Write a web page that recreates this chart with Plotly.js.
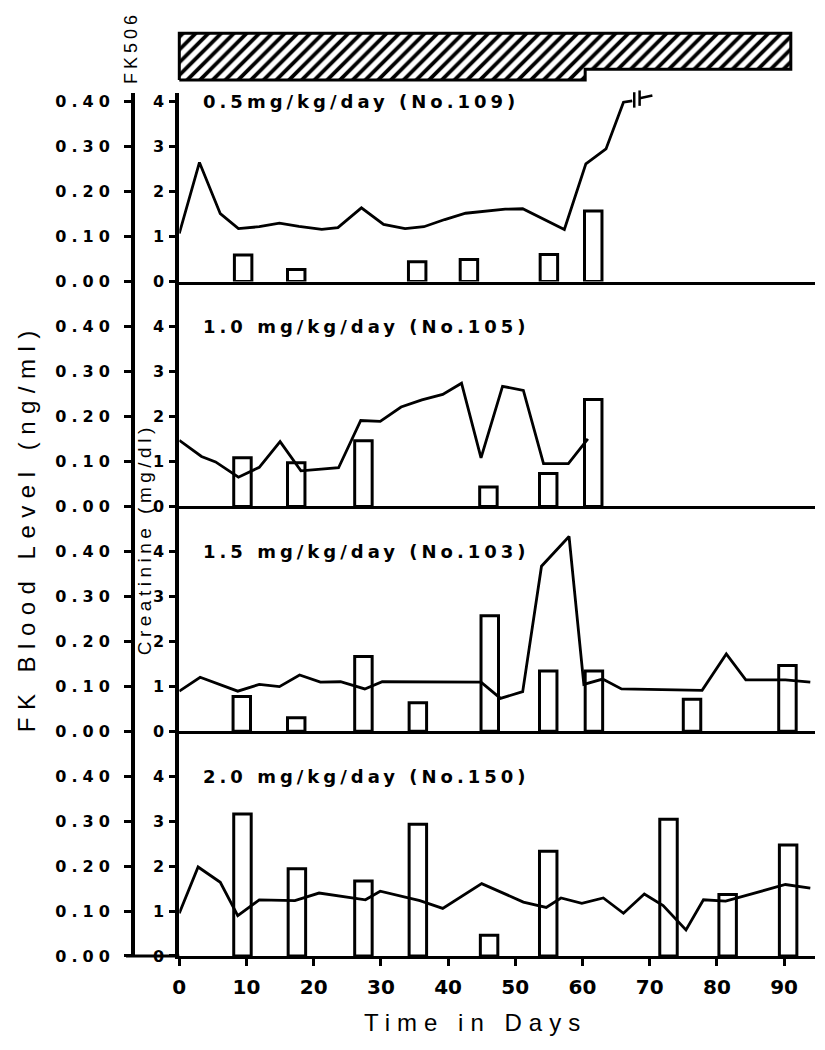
<!DOCTYPE html>
<html>
<head>
<meta charset="utf-8">
<script src="https://cdn.plot.ly/plotly-3.0.1.min.js"></script>
<style>
body{margin:0;background:#fff;}
.ytick text,.y2tick text,.y3tick text,.y4tick text{letter-spacing:5px;}
g.annotation[data-index="0"] text,g.annotation[data-index="1"] text,g.annotation[data-index="2"] text,g.annotation[data-index="3"] text{letter-spacing:4px;}
g.annotation[data-index="4"] text{letter-spacing:7.5px;}
g.annotation[data-index="5"] text{letter-spacing:4.5px;}
g.annotation[data-index="6"] text{letter-spacing:7px;}
g.annotation[data-index="7"] text{letter-spacing:4px;}
</style>
</head>
<body>
<div id="chart" style="width:825px;height:1050px"></div>
<script>
// ---------------- DATA ----------------
const panelLabels = ['0.5mg/kg/day (No.109)', '1.0 mg/kg/day (No.105)', '1.5 mg/kg/day (No.103)', '2.0 mg/kg/day (No.150)'];

// Panel 1: 0.5 mg/kg/day (No.109)
const creatDays1 = [0, 3.0, 6.1, 8.8, 11.9, 14.9, 17.8, 21.2, 23.6, 27.1, 30.4, 33.6, 36.4, 39.5, 42.6, 45.7, 48.5, 51.1, 54.3, 57.3, 60.5, 63.5, 66.1, 67.4];
const creat1     = [1.07, 2.65, 1.51, 1.18, 1.22, 1.30, 1.23, 1.16, 1.20, 1.64, 1.27, 1.18, 1.22, 1.38, 1.52, 1.57, 1.61, 1.62, 1.38, 1.16, 2.62, 2.95, 3.99, 4.02];
const fkDays1 = [9.5, 17.4, 35.4, 43.1, 55.0, 61.6];
const fk1     = [0.059, 0.027, 0.044, 0.049, 0.060, 0.157];
const breakDays1 = [67.7, 68.5, 70.4];
const breakCreat1 = [4.04, 4.08, 4.14];

// Panel 2: 1.0 mg/kg/day (No.105)
const creatDays2 = [0, 3.3, 5.4, 8.8, 11.9, 15.0, 18.1, 20.9, 23.7, 27.0, 29.9, 33.0, 36.1, 39.2, 42.0, 44.9, 48.1, 51.2, 54.2, 57.9, 60.8];
const creat2     = [1.47, 1.11, 0.99, 0.65, 0.87, 1.44, 0.79, 0.82, 0.86, 1.91, 1.89, 2.21, 2.37, 2.49, 2.74, 1.08, 2.67, 2.58, 0.95, 0.95, 1.50];
const fkDays2 = [9.4, 17.4, 27.4, 46.0, 54.9, 61.6];
const fk2     = [0.108, 0.097, 0.146, 0.043, 0.073, 0.238];

// Panel 3: 1.5 mg/kg/day (No.103)
const creatDays3 = [0, 3.1, 8.7, 11.9, 14.9, 17.9, 21.0, 24.0, 27.6, 30.2, 44.9, 47.8, 51.1, 53.9, 58.0, 60.2, 63.0, 65.8, 77.8, 81.4, 84.3, 90.2, 93.9];
const creat3     = [0.89, 1.20, 0.89, 1.04, 0.99, 1.25, 1.09, 1.10, 0.94, 1.10, 1.09, 0.73, 0.88, 3.67, 4.33, 1.04, 1.16, 0.94, 0.91, 1.72, 1.14, 1.14, 1.09];
const fkDays3 = [9.3, 17.4, 27.4, 35.5, 46.2, 54.9, 61.7, 76.3, 90.5];
const fk3     = [0.077, 0.030, 0.166, 0.063, 0.257, 0.134, 0.134, 0.071, 0.146];

// Panel 4: 2.0 mg/kg/day (No.150)
const creatDays4 = [0, 2.8, 6.1, 8.7, 11.9, 17.2, 20.8, 27.7, 29.9, 35.8, 39.2, 45.0, 51.2, 54.6, 56.8, 59.9, 63.1, 66.1, 69.2, 72.0, 75.4, 78.0, 81.3, 86.5, 90.2, 93.9];
const creat4     = [0.95, 1.98, 1.64, 0.90, 1.25, 1.23, 1.40, 1.25, 1.44, 1.23, 1.06, 1.61, 1.20, 1.08, 1.29, 1.17, 1.29, 0.95, 1.38, 1.12, 0.58, 1.25, 1.22, 1.44, 1.59, 1.51];
const fkDays4 = [9.4, 17.5, 27.4, 35.5, 46.1, 54.9, 72.8, 81.6, 90.6];
const fk4     = [0.316, 0.194, 0.167, 0.293, 0.046, 0.233, 0.304, 0.137, 0.247];

// FK506 dosing periods (relative bar band: lower edge of the band)
const doseStart = [0, 60.4];
const doseEnd   = [60.4, 91.0];
const doseBase  = [0, 0.23];

// Ticks
const xTicks = [0, 10, 20, 30, 40, 50, 60, 70, 80, 90];
const fkTicks = [0, 0.1, 0.2, 0.3, 0.4];
const fkTickText = ['0.00', '0.10', '0.20', '0.30', '0.40'];
const crTicks = [0, 1, 2, 3, 4];
const crTickText = ['0', '1', '2', '3', '4'];

// ---------------- LAYOUT GEOMETRY ----------------
const W = 825, H = 1050, L = 133, R = 10, T = 20, B = 93.6;
const plotW = W - L - R, plotH = H - T - B;
const px2x = x => (x - L) / plotW;
const px2y = y => (H - B - y) / plotH;
const day0Px = 179.3, xEndPx = 815, xMax = 94.6;
const pxPerDay = (xEndPx - day0Px) / xMax;
const xDom = [px2x(day0Px), 1];
const unit = 44.98, zero0 = 281.7;

const panels = [
  {cd: creatDays1, c: creat1, fd: fkDays1, f: fk1, top: 4.2},
  {cd: creatDays2, c: creat2, fd: fkDays2, f: fk2, top: 5},
  {cd: creatDays3, c: creat3, fd: fkDays3, f: fk3, top: 5},
  {cd: creatDays4, c: creat4, fd: fkDays4, f: fk4, top: 5}
];

const tickFont = {family: 'DejaVu Sans', size: 16, weight: 'bold', color: '#000'};
const traces = [];
const layout = {
  width: W, height: H,
  margin: {l: L, r: R, t: T, b: B},
  paper_bgcolor: '#fff', plot_bgcolor: 'rgba(0,0,0,0)',
  showlegend: false,
  bargap: 0,
  annotations: [], shapes: []
};

panels.forEach((p, i) => {
  const k = i + 1;
  const xa = 'x' + (k === 1 ? '' : k);
  const yFK = 'y' + (k === 1 ? '' : k);      // base: FK blood level (outer axis)
  const yCr = 'y' + (k + 4);                 // overlay: creatinine (inner axis)
  const zeroPx = zero0 + 5 * unit * i;
  const dom = [px2y(zeroPx), px2y(zeroPx - p.top * unit)];

  layout['xaxis' + (k === 1 ? '' : k)] = {
    domain: xDom, range: [0, xMax], anchor: yFK,
    showline: true, linewidth: 3, linecolor: '#000',
    showgrid: false, zeroline: false,
    ticks: k === 4 ? 'outside' : '', ticklen: 7, tickwidth: 3, tickcolor: '#000',
    tickvals: xTicks, showticklabels: k === 4,
    tickfont: {family: 'DejaVu Sans', size: 20, weight: 'bold', color: '#000'},
    ticklabelstandoff: 4
  };
  layout['yaxis' + (k === 1 ? '' : k)] = {
    domain: dom, range: [0, p.top / 10], anchor: 'free', position: 0,
    showline: true, linewidth: 4, linecolor: '#000',
    showgrid: false, zeroline: false,
    ticks: 'outside', ticklen: 7, tickwidth: 3, tickcolor: '#000',
    tickvals: fkTicks, ticktext: fkTickText, tickfont: tickFont,
    ticklabelstandoff: 6
  };
  layout['yaxis' + (k + 4)] = {
    overlaying: yFK, anchor: xa, range: [0, p.top],
    showline: true, linewidth: 4, linecolor: '#000',
    showgrid: false, zeroline: false,
    ticks: 'outside', ticklen: 6, tickwidth: 3, tickcolor: '#000',
    tickvals: crTicks, ticktext: crTickText, tickfont: tickFont,
    ticklabelstandoff: 2
  };

  traces.push({
    type: 'bar', x: p.fd, y: p.f, xaxis: xa, yaxis: yFK,
    width: 2.6,
    marker: {color: '#fff', line: {color: '#000', width: 3}},
    hoverinfo: 'skip'
  });
  traces.push({
    type: 'scatter', mode: 'lines', x: p.cd, y: p.c, xaxis: xa, yaxis: yCr,
    line: {color: '#000', width: 2.8}, hoverinfo: 'skip'
  });

  layout.annotations.push({
    text: panelLabels[i], xref: 'paper', yref: yCr, x: px2x(201), y: 4,
    xanchor: 'left', yanchor: 'middle', align: 'left', showarrow: false,
    font: {family: 'DejaVu Sans', size: 18, weight: 'bold', color: '#000'}
  });
});

// break symbol on panel 1 line
traces.push({
  type: 'scatter', mode: 'markers', x: breakDays1.slice(0, 2), y: breakCreat1.slice(0, 2),
  xaxis: 'x', yaxis: 'y5', cliponaxis: false,
  marker: {symbol: 'line-ns-open', size: 11, color: '#000', line: {color: '#000', width: 2.5}},
  hoverinfo: 'skip'
});
traces.push({
  type: 'scatter', mode: 'lines', x: breakDays1.slice(1), y: breakCreat1.slice(1),
  xaxis: 'x', yaxis: 'y5', line: {color: '#000', width: 2.5}, hoverinfo: 'skip'
});

// FK506 dosing band (hatched)
const x5Start = xDom[0] - 1 * pxPerDay / plotW;
layout.xaxis9 = {domain: [x5Start, 1], range: [-1, xMax], visible: false, anchor: 'y9'};
layout.yaxis9 = {domain: [px2y(82.3), px2y(31.0)], range: [-0.05, 1.05], visible: false, anchor: 'x9'};
traces.push({
  type: 'bar', xaxis: 'x9', yaxis: 'y9',
  x: doseStart.map((s, j) => (s + doseEnd[j]) / 2),
  width: doseStart.map((s, j) => doseEnd[j] - s),
  base: doseBase, y: doseBase.map(b => 1 - b),
  marker: {color: '#fff', line: {width: 0},
           pattern: {shape: '/', fgcolor: '#000', bgcolor: '#fff', size: 9, solidity: 0.42}},
  hoverinfo: 'skip'
});
const ox = [doseStart[0]], oy = [doseBase[0]];
doseStart.forEach((s, j) => { ox.push(doseEnd[j]); oy.push(doseBase[j]);
  if (j + 1 < doseStart.length) { ox.push(doseEnd[j]); oy.push(doseBase[j + 1]); } });
ox.push(doseEnd[doseEnd.length - 1], doseStart[0], doseStart[0]);
oy.push(1, 1, doseBase[0]);
traces.push({
  type: 'scatter', mode: 'lines', xaxis: 'x9', yaxis: 'y9', x: ox, y: oy,
  line: {color: '#000', width: 3}, hoverinfo: 'skip'
});

// bottom axis line extension to the outer axis
layout.shapes.push({type: 'line', xref: 'paper', yref: 'paper', x0: px2x(126), x1: xDom[0], y0: 0, y1: 0,
  line: {color: '#000', width: 3}});

// titles
layout.annotations.push({
  text: 'FK Blood Level (ng/ml)', xref: 'paper', yref: 'paper', x: px2x(27), y: px2y(528),
  xanchor: 'center', yanchor: 'middle', textangle: -90, showarrow: false,
  font: {family: 'Liberation Sans', size: 24, color: '#000'}
});
layout.annotations.push({
  text: 'Creatinine (mg/dl)', xref: 'paper', yref: 'paper', x: px2x(145), y: px2y(540),
  xanchor: 'center', yanchor: 'middle', textangle: -90, showarrow: false,
  font: {family: 'Liberation Sans', size: 19, color: '#000'}
});
layout.annotations.push({
  text: 'Time in Days', xref: 'paper', yref: 'paper', x: px2x(475), y: px2y(1023),
  xanchor: 'center', yanchor: 'middle', showarrow: false,
  font: {family: 'Liberation Sans', size: 24, color: '#000'}
});
layout.annotations.push({
  text: 'FK506', xref: 'paper', yref: 'paper', x: px2x(131), y: px2y(48),
  xanchor: 'center', yanchor: 'middle', textangle: -90, showarrow: false,
  font: {family: 'Liberation Sans', size: 18, color: '#000'}
});

Plotly.newPlot('chart', traces, layout, {displayModeBar: false, staticPlot: true});
</script>
</body>
</html>
